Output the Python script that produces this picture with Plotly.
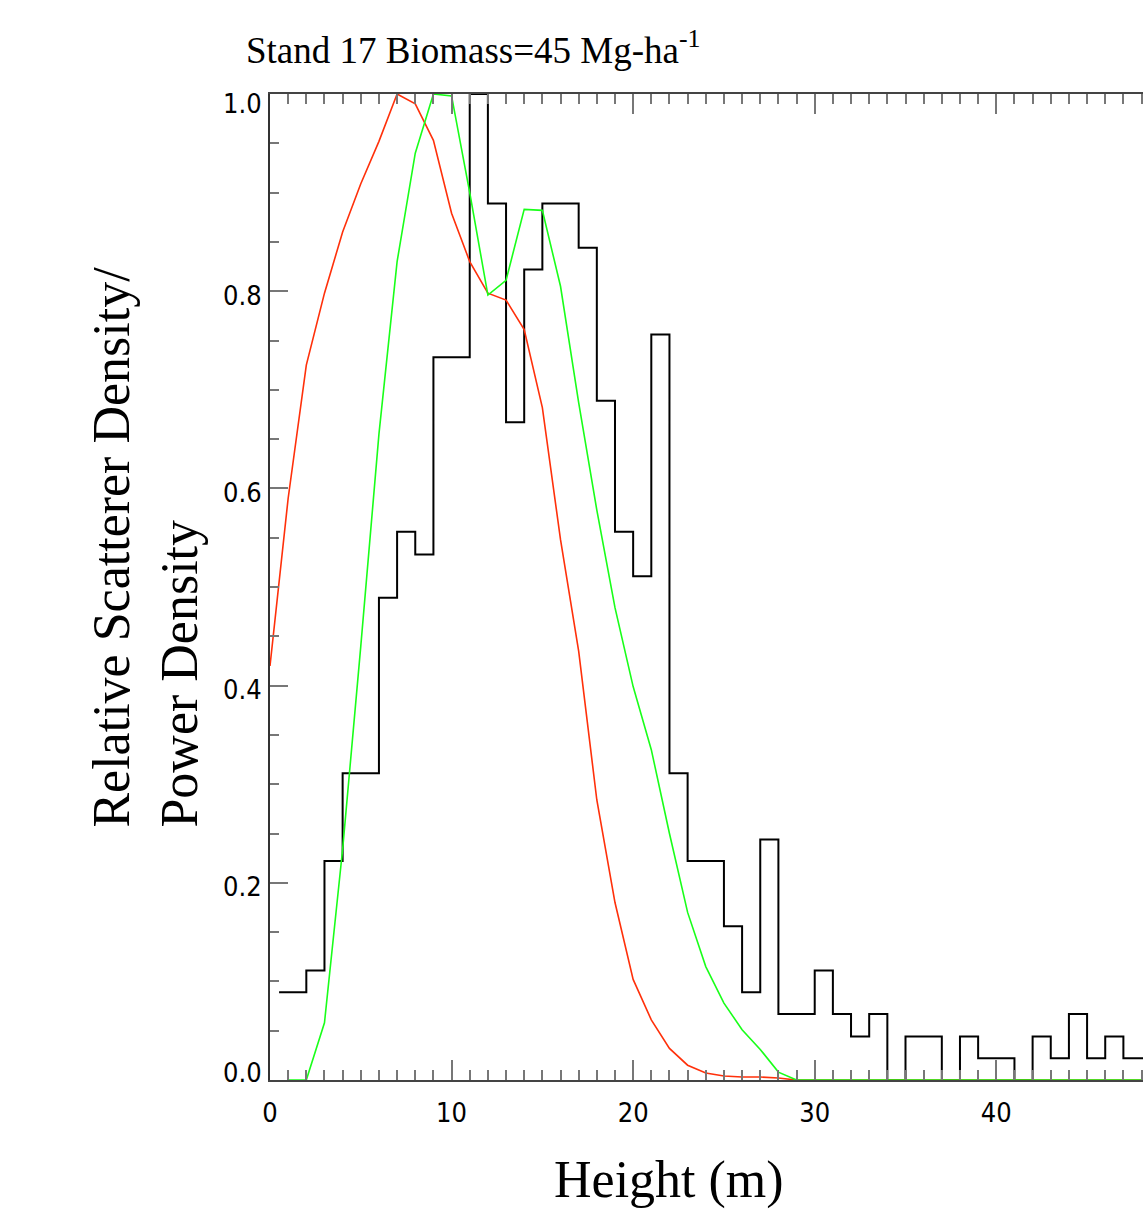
import plotly.graph_objects as go

# ---- data ----
bin_centers = [0.5, 1.5, 2.5, 3.5, 4.5, 5.5, 6.5, 7.5, 8.5, 9.5, 10.5, 11.5, 12.5, 13.5,
               14.5, 15.5, 16.5, 17.5, 18.5, 19.5, 20.5, 21.5, 22.5, 23.5, 24.5, 25.5,
               26.5, 27.5, 28.5, 29.5, 30.5, 31.5, 32.5, 33.5, 34.5, 35.5, 36.5, 37.5,
               38.5, 39.5, 40.5, 41.5, 42.5, 43.5, 44.5, 45.5, 46.5, 47.5, 48.5]
scatterer_density = [0.089, 0.089, 0.111, 0.222, 0.311, 0.311, 0.489, 0.556, 0.533, 0.733,
                     0.733, 1.0, 0.889, 0.667, 0.822, 0.889, 0.889, 0.844, 0.689, 0.556,
                     0.511, 0.756, 0.311, 0.222, 0.222, 0.156, 0.089, 0.244, 0.067, 0.067,
                     0.111, 0.067, 0.044, 0.067, 0.0, 0.044, 0.044, 0.0, 0.044, 0.022,
                     0.022, 0.0, 0.044, 0.022, 0.067, 0.022, 0.044, 0.022, 0.022]

red_heights = [0, 1, 2, 3, 4, 5, 6, 7, 8, 9, 10, 11, 12, 13, 14, 15, 16, 17, 18, 19, 20,
               21, 22, 23, 24, 25, 26, 27, 28, 29, 30, 35, 40, 45, 48]
red_power = [0.42, 0.59, 0.725, 0.798, 0.86, 0.909, 0.952, 1.0, 0.99, 0.953, 0.879, 0.83,
             0.798, 0.791, 0.761, 0.682, 0.548, 0.435, 0.284, 0.18, 0.102, 0.061, 0.032,
             0.015, 0.007, 0.004, 0.003, 0.003, 0.002, 0.0, 0.0, 0.0, 0.0, 0.0, 0.0]

green_heights = [1, 2, 3, 4, 5, 6, 7, 8, 9, 10, 11, 12, 13, 14, 15, 16, 17, 18, 19, 20,
                 21, 22, 23, 24, 25, 26, 27, 28, 29, 30, 35, 40, 45, 48]
green_power = [0.0, 0.0, 0.058, 0.234, 0.44, 0.655, 0.83, 0.94, 1.0, 0.998, 0.9, 0.796,
               0.811, 0.883, 0.882, 0.805, 0.687, 0.578, 0.479, 0.399, 0.335, 0.25, 0.17,
               0.115, 0.078, 0.051, 0.031, 0.008, 0.0, 0.0, 0.0, 0.0, 0.0, 0.0]

x_tickvals = [0, 10, 20, 30, 40]
y_tickvals = [0.0, 0.2, 0.4, 0.6, 0.8, 1.0]
y_ticklabels = ["0.0", "0.2", "0.4", "0.6", "0.8", "1.0"]

TICKFONT = dict(family="Liberation Sans Narrow, DejaVu Sans Condensed, Arial Narrow, sans-serif",
                size=27, color="black")
SERIF = "Liberation Serif, Times New Roman, serif"

fig = go.Figure()
fig.add_trace(go.Scatter(x=bin_centers, y=scatterer_density, mode="lines",
                         line=dict(color="black", width=2, shape="hvh"),
                         hoverinfo="skip", showlegend=False))
fig.add_trace(go.Scatter(x=red_heights, y=red_power, mode="lines",
                         line=dict(color="#ff300a", width=1.6),
                         hoverinfo="skip", showlegend=False))
fig.add_trace(go.Scatter(x=green_heights, y=green_power, mode="lines",
                         line=dict(color="#19ff19", width=1.6),
                         hoverinfo="skip", showlegend=False))

fig.update_xaxes(range=[0, 48.08], showgrid=False, zeroline=False,
                 showline=True, linecolor="#444", linewidth=2, mirror="ticks",
                 ticks="inside", ticklen=20, tickwidth=1.5, tickcolor="#777",
                 tickvals=x_tickvals, tickfont=TICKFONT, ticklabelstandoff=8,
                 minor=dict(dtick=1, ticks="inside", ticklen=10, tickwidth=1.5,
                            tickcolor="#777", showgrid=False))
fig.update_yaxes(range=[0, 1.0], showgrid=False, zeroline=False,
                 showline=True, linecolor="#333", linewidth=2, mirror=False,
                 ticks="inside", ticklen=18, tickwidth=1.5, tickcolor="#777",
                 tickvals=y_tickvals, showticklabels=False,
                 minor=dict(dtick=0.05, ticks="inside", ticklen=9, tickwidth=1.5,
                            tickcolor="#777", showgrid=False))

# y tick labels (IDL-style: end labels pulled inside the axis span)
for v, lab in zip(y_tickvals, y_ticklabels):
    shift = -4
    if v == y_tickvals[0]:
        shift = 8
    elif v == y_tickvals[-1]:
        shift = -9
    fig.add_annotation(text=lab, xref="paper", yref="y", x=0, y=v,
                       xanchor="right", yanchor="middle", xshift=-6, yshift=shift,
                       showarrow=False, font=TICKFONT)

fig.add_annotation(text="Stand 17 Biomass=45 Mg-ha<sup>-1</sup>",
                   xref="paper", yref="paper", x=-0.0300, y=1.047,
                   xanchor="left", yanchor="middle", showarrow=False,
                   font=dict(family=SERIF, size=37, color="black"))
fig.add_annotation(text="Height (m)",
                   xref="paper", yref="paper", x=0.457, y=-0.101,
                   xanchor="center", yanchor="middle", showarrow=False,
                   font=dict(family=SERIF, size=52, color="black"))
fig.add_annotation(text="Relative Scatterer Density/<br>Power Density",
                   xref="paper", yref="paper", x=-0.142, y=0.540,
                   xanchor="center", yanchor="middle", showarrow=False,
                   textangle=-90, align="left",
                   font=dict(family=SERIF, size=52, color="black"))

fig.update_layout(width=1143, height=1210,
                  margin=dict(l=270, r=0, t=94, b=130),
                  paper_bgcolor="white", plot_bgcolor="white")

fig.write_html("out.html", config={"displayModeBar": False},
               post_script="document.body.style.margin='0';document.body.style.overflow='hidden';")
